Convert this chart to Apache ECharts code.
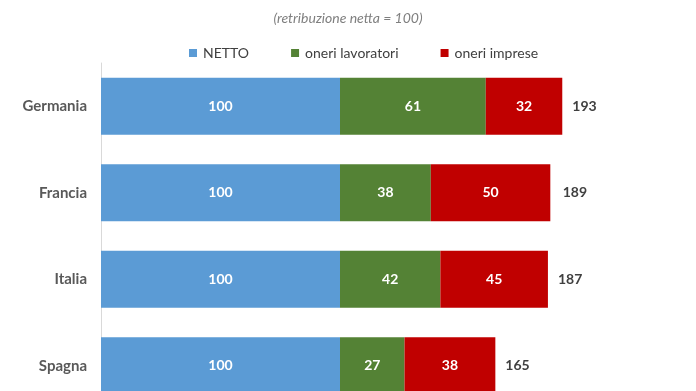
<!DOCTYPE html>
<html><head><meta charset="utf-8">
<script src="https://cdn.jsdelivr.net/npm/echarts@6/dist/echarts.min.js"></script>
<style>html,body{margin:0;padding:0;background:#fff}#c{width:696px;height:391px}</style>
</head><body><div id="c"></div>
<script>
const categories = ['Germania', 'Francia', 'Italia', 'Spagna'];
const netto = [100, 100, 100, 100];
const oneriLavoratori = [61, 38, 42, 27];
const oneriImprese = [32, 50, 45, 38];
const totali = [193, 189, 187, 165];
const subtitle = '(retribuzione netta = 100)';

const font = 'Lato';
const chart = echarts.init(document.getElementById('c'));
const inLabel = {show: true, position: 'inside', color: '#fff', fontWeight: 'bold', fontSize: 14, fontFamily: font};
chart.setOption({
  animation: false,
  title: {text: subtitle, left: 'center', top: 6,
    textStyle: {fontSize: 14, fontStyle: 'italic', fontWeight: 'normal', color: '#7f7f7f', fontFamily: font}},
  legend: {data: ['NETTO', 'oneri lavoratori', 'oneri imprese'], left: 184, top: 41, itemWidth: 8, itemHeight: 8,
    itemGap: 42, icon: 'rect', textStyle: {fontSize: 14, color: '#404040', fontFamily: font, padding: [0, 0, 0, 1]}},
  grid: {left: 101, top: 63, width: 597.5, height: 346, outerBoundsMode: 'none', containLabel: false},
  xAxis: {type: 'value', min: 0, max: 250, show: false},
  yAxis: {type: 'category', data: categories, inverse: true,
    axisLine: {lineStyle: {color: '#d9d9d9'}}, axisTick: {show: false},
    axisLabel: {fontWeight: 'bold', fontSize: 15, color: '#595959', margin: 14, fontFamily: font}},
  series: [
    {name: 'totale', type: 'bar', data: totali, barWidth: 57, barGap: '-100%', z: 1,
      itemStyle: {color: 'rgba(0,0,0,0)'}, silent: true,
      label: {show: true, position: 'right', distance: 10, color: '#404040', fontWeight: 'bold', fontSize: 14, fontFamily: font}},
    {name: 'NETTO', type: 'bar', stack: 's', data: netto, barWidth: 57, z: 2, itemStyle: {color: '#5B9BD5'}, label: inLabel},
    {name: 'oneri lavoratori', type: 'bar', stack: 's', data: oneriLavoratori, barWidth: 57, z: 2, itemStyle: {color: '#548235'}, label: inLabel},
    {name: 'oneri imprese', type: 'bar', stack: 's', data: oneriImprese, barWidth: 57, z: 2, itemStyle: {color: '#C00000'}, label: inLabel}
  ]
});
</script></body></html>
